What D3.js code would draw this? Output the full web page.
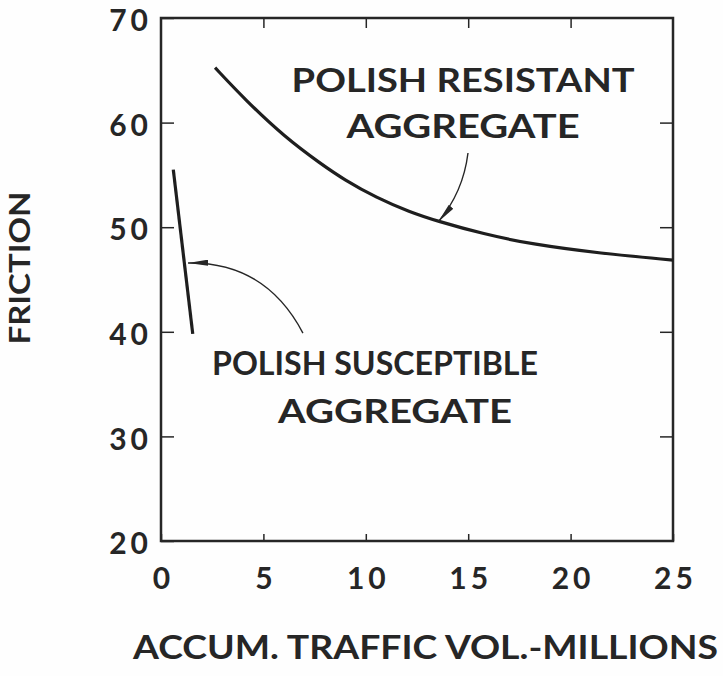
<!DOCTYPE html>
<html>
<head>
<meta charset="utf-8">
<script src="https://cdn.jsdelivr.net/npm/d3@7"></script>
<style>
  html, body { margin: 0; padding: 0; background: #fefefe; }
  svg { display: block; }
  text { font-family: Lato, "DejaVu Sans", sans-serif; font-weight: 700; fill: #262626; }
</style>
</head>
<body>
<svg id="chart" width="723" height="676"></svg>
<script>
// ---- data ----
const xTicks = [0, 5, 10, 15, 20, 25];
const yTicks = [20, 30, 40, 50, 60, 70];
const resistantX = [2.64, 4.10, 6.05, 7.85, 8.90, 10.53, 12.16, 13.46, 15.74, 18.16, 21.44, 25.0];
const resistantY = [65.25, 62.2, 58.6, 56.0, 54.6, 52.8, 51.45, 50.6, 49.35, 48.35, 47.5, 46.85];
const susceptibleX = [0.6, 1.55];
const susceptibleY = [55.5, 39.8];
const xTitle = "ACCUM. TRAFFIC VOL.-MILLIONS";
const yTitle = "FRICTION";
const resistantLabel = ["POLISH RESISTANT", "AGGREGATE"];
const susceptibleLabel = ["POLISH SUSCEPTIBLE", "AGGREGATE"];

// ---- layout ----
const svg = d3.select("#chart");
const x = d3.scaleLinear().domain([0, 25]).range([161, 673]);
const y = d3.scaleLinear().domain([20, 70]).range([541, 18]);
const ink = "#262626";

// axes (ticks inward)
const gB = svg.append("g").attr("transform", `translate(0,${y(20)})`)
  .call(d3.axisBottom(x).tickValues(xTicks).tickSizeInner(-7).tickSizeOuter(0).tickPadding(27).tickFormat(d3.format("d")));
const gT = svg.append("g").attr("transform", `translate(0,${y(70)})`)
  .call(d3.axisTop(x).tickValues(xTicks.slice(1, -1)).tickSizeInner(-10).tickSizeOuter(0).tickFormat(""));
const gL = svg.append("g").attr("transform", `translate(${x(0)},0)`)
  .call(d3.axisLeft(y).tickValues(yTicks).tickSizeInner(-13).tickSizeOuter(0).tickPadding(13).tickFormat(d3.format("d")));
const gR = svg.append("g").attr("transform", `translate(${x(25)},0)`)
  .call(d3.axisRight(y).tickValues(yTicks.slice(1, -1)).tickSizeInner(-13).tickSizeOuter(0).tickFormat(""));

[gB, gT, gL, gR].forEach(g => {
  g.select(".domain").remove();
  g.selectAll(".tick line").attr("stroke", ink).attr("stroke-width", 1.5);
  g.selectAll(".tick text").attr("font-size", 30).attr("letter-spacing", 4)
    .attr("fill", ink).attr("font-family", "Lato, DejaVu Sans, sans-serif").attr("font-weight", 700);
});
gL.selectAll(".tick text").attr("dy", "0.42em").attr("dx", 4);
gB.selectAll(".tick text").attr("dx", 2);

// frame
svg.append("rect")
  .attr("x", x(0)).attr("y", y(70))
  .attr("width", x(25) - x(0)).attr("height", y(20) - y(70))
  .attr("fill", "none").attr("stroke", ink).attr("stroke-width", 2.5);

// curves
const line = d3.line().x(d => x(d[0])).y(d => y(d[1])).curve(d3.curveBasis);
svg.append("path")
  .datum(d3.zip(resistantX, resistantY))
  .attr("d", line).attr("fill", "none").attr("stroke", "#1e1e1e").attr("stroke-width", 3.2);
svg.append("path")
  .datum(d3.zip(susceptibleX, susceptibleY))
  .attr("d", d3.line().x(d => x(d[0])).y(d => y(d[1])))
  .attr("fill", "none").attr("stroke", "#1e1e1e").attr("stroke-width", 3.2);

// arrow markers
const defs = svg.append("defs");
defs.append("marker").attr("id", "arr").attr("viewBox", "0 0 20 6")
  .attr("refX", 20).attr("refY", 3).attr("markerWidth", 20).attr("markerHeight", 6)
  .attr("markerUnits", "userSpaceOnUse").attr("orient", "auto")
  .append("path").attr("d", "M0,0 L20,3 L0,6 Z").attr("fill", ink);

// annotation arrows (data coordinates: start, control, end)
const resArrow = [[14.99, 57.09], [14.75, 53.3], [13.53, 50.5]];
const susArrow = [[6.93, 39.88], [5.1, 46.7], [1.32, 46.58]];
[resArrow, susArrow].forEach(a => {
  const p = d3.path();
  p.moveTo(x(a[0][0]), y(a[0][1]));
  p.quadraticCurveTo(x(a[1][0]), y(a[1][1]), x(a[2][0]), y(a[2][1]));
  svg.append("path").attr("d", p.toString()).attr("fill", "none")
    .attr("stroke", ink).attr("stroke-width", 1.4).attr("marker-end", "url(#arr)");
});

// annotation labels
function label(txt, cx, by, len, size) {
  svg.append("text").attr("x", x(cx)).attr("y", y(by))
    .attr("text-anchor", "middle").attr("font-size", size)
    .attr("textLength", len).attr("lengthAdjust", "spacingAndGlyphs")
    .text(txt);
}
label(resistantLabel[0], 14.75, 62.95, 343, 32);
label(resistantLabel[1], 14.75, 58.5, 233, 32);
label(susceptibleLabel[0], 10.45, 35.87, 326, 32);
label(susceptibleLabel[1], 11.43, 31.25, 234, 32);

// axis titles
svg.append("text").attr("x", 425.5).attr("y", 659)
  .attr("text-anchor", "middle").attr("font-size", 33)
  .attr("textLength", 585).attr("lengthAdjust", "spacingAndGlyphs").text(xTitle);
svg.append("text").attr("transform", "translate(29.5,268) rotate(-90)")
  .attr("text-anchor", "middle").attr("font-size", 28)
  .attr("textLength", 153).attr("lengthAdjust", "spacingAndGlyphs").text(yTitle);
</script>
</body>
</html>
